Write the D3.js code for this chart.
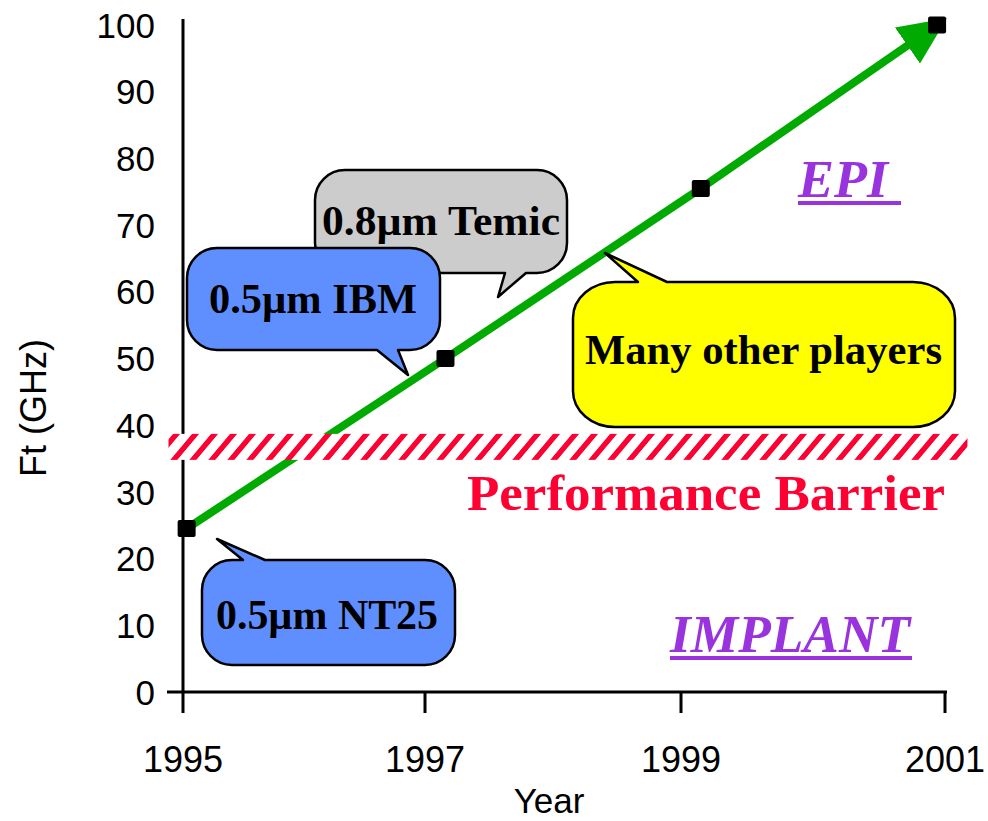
<!DOCTYPE html>
<html>
<head>
<meta charset="utf-8">
<script src="https://cdn.jsdelivr.net/npm/d3@7/dist/d3.min.js"></script>
<style>
  body { margin: 0; background: #fff; }
  svg { display: block; }
</style>
</head>
<body>
<svg id="chart" width="988" height="821"></svg>
<script>
// Ft trend of SiGe processes, 1995 - 2001

var years = [1995.03, 1997.16, 1999.15, 2000.94];
var ftGHz = [24.5, 50, 75.5, 100];
var tickYears = [1995, 1997, 1999, 2001];
var ftTicks = [0, 10, 20, 30, 40, 50, 60, 70, 80, 90, 100];
var barrierFt = [34.8, 38.7];
var barrierYears = [1994.88, 2001.17];

var callouts = [
    {text: "0.8\u00b5m Temic", fill: "#cccccc"},
    {text: "0.5\u00b5m IBM", fill: "#5f8fff"},
    {text: "Many other players", fill: "#ffff00"},
    {text: "0.5\u00b5m NT25", fill: "#5f8fff"}
];

var serif = "'Liberation Serif', 'Times New Roman', serif";
var sans = "'Liberation Sans', Arial, sans-serif";
var green = "#00aa00";
var red = "#ff0033";
var purple = "#9933dd";

var svg = d3.select('#chart');
svg.append('rect').attr('width', 988).attr('height', 821).attr('fill', '#fff');

// the original axis has uneven spacing between the year ticks
var x = d3.scaleLinear().domain(tickYears).range([183, 425, 681, 945]);
var y = d3.scaleLinear().domain([0, 100]).range([692, 25]);

var defs = svg.append('defs');
defs.append('marker')
    .attr('id', 'arrowHead')
    .attr('markerUnits', 'userSpaceOnUse')
    .attr('viewBox', '0 -23 50 46')
    .attr('markerWidth', 50)
    .attr('markerHeight', 46)
    .attr('refX', 36)
    .attr('refY', 0)
    .attr('orient', 'auto')
  .append('path')
    .attr('d', 'M0,-22 L48,0 L0,22 Z')
    .attr('fill', green);

var hatch = defs.append('pattern')
    .attr('id', 'hatch')
    .attr('patternUnits', 'userSpaceOnUse')
    .attr('width', 19)
    .attr('height', 26)
    .attr('patternTransform', 'translate(0,434) skewX(-40)');
hatch.append('rect').attr('width', 19).attr('height', 26).attr('fill', '#fff');
hatch.append('rect').attr('x', 2).attr('width', 7).attr('height', 26).attr('fill', red);

// axes
var axisGroup = svg.append('g');
axisGroup.append('line')
    .attr('x1', x(1995)).attr('x2', x(1995))
    .attr('y1', y(100) - 6).attr('y2', y(0))
    .style('stroke', 'black').style('stroke-width', 3);
axisGroup.append('line')
    .attr('x1', x(1995) - 16).attr('x2', x(2001) + 2)
    .attr('y1', y(0)).attr('y2', y(0))
    .style('stroke', 'black').style('stroke-width', 3);
axisGroup.selectAll('line.xtick')
    .data(tickYears)
    .enter()
  .append('line')
    .attr('class', 'xtick')
    .attr('x1', function (d) { return x(d); })
    .attr('x2', function (d) { return x(d); })
    .attr('y1', y(0))
    .attr('y2', y(0) + 21)
    .style('stroke', 'black').style('stroke-width', 3);
axisGroup.selectAll('text.xlabel')
    .data(tickYears)
    .enter()
  .append('text')
    .attr('class', 'xlabel')
    .attr('x', function (d) { return x(d); })
    .attr('y', 772)
    .attr('text-anchor', 'middle')
    .attr('font-family', sans)
    .attr('font-size', 36)
    .text(function (d) { return d; });
axisGroup.selectAll('text.ylabel')
    .data(ftTicks)
    .enter()
  .append('text')
    .attr('class', 'ylabel')
    .attr('x', 155)
    .attr('y', function (d) { return y(d); })
    .attr('dy', '0.36em')
    .attr('text-anchor', 'end')
    .attr('font-family', sans)
    .attr('font-size', 35)
    .text(function (d) { return d; });
svg.append('text')
    .attr('x', 549).attr('y', 813)
    .attr('text-anchor', 'middle')
    .attr('font-family', sans).attr('font-size', 35)
    .text('Year');
svg.append('text')
    .attr('transform', 'translate(46, 408) rotate(-90)')
    .attr('text-anchor', 'middle')
    .attr('font-family', sans).attr('font-size', 36)
    .text('Ft (GHz)');

// trend arrow and points
var points = years.map(function (d, i) { return [d, ftGHz[i]]; });
var lineMaker = d3.line()
    .x(function (d) { return x(d[0]); })
    .y(function (d) { return y(d[1]); });
svg.append('path')
    .datum(points)
    .attr('d', lineMaker)
    .attr('fill', 'none')
    .attr('stroke', green)
    .attr('stroke-width', 8)
    .attr('marker-end', 'url(#arrowHead)');
svg.selectAll('rect.point')
    .data(points)
    .enter()
  .append('rect')
    .attr('class', 'point')
    .attr('x', function (d) { return x(d[0]) - 9; })
    .attr('y', function (d) { return y(d[1]) - 8.5; })
    .attr('width', 18)
    .attr('height', 17)
    .attr('rx', 2)
    .attr('fill', 'black');

// performance barrier band
svg.append('rect')
    .attr('x', x(barrierYears[0]))
    .attr('y', y(barrierFt[1]))
    .attr('width', x(barrierYears[1]) - x(barrierYears[0]))
    .attr('height', y(barrierFt[0]) - y(barrierFt[1]))
    .attr('fill', 'url(#hatch)');
svg.append('text')
    .attr('x', 467).attr('y', 510)
    .attr('font-family', serif).attr('font-weight', 'bold')
    .attr('font-size', 51)
    .attr('textLength', 478)
    .attr('lengthAdjust', 'spacingAndGlyphs')
    .attr('fill', red)
    .text('Performance Barrier');

// speech bubbles
function bubblePath(b) {
    var x0 = b.x, y0 = b.y, x1 = b.x + b.w, y1 = b.y + b.h, rx = b.rx, ry = b.ry;
    var p = 'M' + (x0 + rx) + ',' + y0;
    if (b.edge === 'top') {
        p += ' L' + b.a + ',' + y0 + ' L' + b.tip[0] + ',' + b.tip[1] + ' L' + b.b + ',' + y0;
    }
    p += ' L' + (x1 - rx) + ',' + y0;
    p += ' A' + rx + ',' + ry + ' 0 0 1 ' + x1 + ',' + (y0 + ry);
    p += ' L' + x1 + ',' + (y1 - ry);
    p += ' A' + rx + ',' + ry + ' 0 0 1 ' + (x1 - rx) + ',' + y1;
    if (b.edge === 'bottom') {
        p += ' L' + b.b + ',' + y1 + ' L' + b.tip[0] + ',' + b.tip[1] + ' L' + b.a + ',' + y1;
    }
    p += ' L' + (x0 + rx) + ',' + y1;
    p += ' A' + rx + ',' + ry + ' 0 0 1 ' + x0 + ',' + (y1 - ry);
    p += ' L' + x0 + ',' + (y0 + ry);
    p += ' A' + rx + ',' + ry + ' 0 0 1 ' + (x0 + rx) + ',' + y0 + ' Z';
    return p;
}

var bubbleLayout = [
    {x: 315, y: 170, w: 252, h: 103, rx: 30, ry: 30, edge: 'bottom', a: 505, b: 526, tip: [498, 297], tx: 322, ty: 235, tw: 238},
    {x: 187, y: 248, w: 253, h: 102, rx: 30, ry: 30, edge: 'bottom', a: 377, b: 398, tip: [408, 375], tx: 209, ty: 313, tw: 208},
    {x: 573, y: 282, w: 382, h: 145, rx: 42, ry: 36, edge: 'top', a: 638, b: 667, tip: [605, 253], tx: 585, ty: 364, tw: 357},
    {x: 202, y: 560, w: 253, h: 105, rx: 30, ry: 30, edge: 'top', a: 243, b: 265, tip: [217, 539], tx: 216, ty: 629, tw: 222}
];

var bubbles = svg.selectAll('g.bubble')
    .data(callouts)
    .enter()
  .append('g')
    .attr('class', 'bubble');
bubbles.append('path')
    .attr('d', function (d, i) { return bubblePath(bubbleLayout[i]); })
    .attr('fill', function (d) { return d.fill; })
    .style('stroke', 'black')
    .style('stroke-width', 2.5)
    .style('stroke-linejoin', 'round');
bubbles.append('text')
    .attr('x', function (d, i) { return bubbleLayout[i].tx; })
    .attr('y', function (d, i) { return bubbleLayout[i].ty; })
    .attr('textLength', function (d, i) { return bubbleLayout[i].tw; })
    .attr('lengthAdjust', 'spacingAndGlyphs')
    .attr('font-family', serif).attr('font-weight', 'bold')
    .attr('font-size', 43)
    .attr('fill', 'black')
    .text(function (d) { return d.text; });

// EPI / IMPLANT region labels
var regions = [
    {text: 'EPI', x: 798, y: 197, tw: 90, ul: 103},
    {text: 'IMPLANT', x: 670, y: 652, tw: 240, ul: 242}
];
regions.forEach(function (r) {
    svg.append('text')
        .attr('x', r.x).attr('y', r.y)
        .attr('font-family', serif).attr('font-weight', 'bold')
        .attr('font-style', 'italic')
        .attr('font-size', 53)
        .attr('textLength', r.tw)
        .attr('lengthAdjust', 'spacingAndGlyphs')
        .attr('fill', purple)
        .text(r.text);
    svg.append('rect')
        .attr('x', r.x).attr('y', r.y + 4)
        .attr('width', r.ul).attr('height', 4)
        .attr('fill', purple);
});
</script>
</body>
</html>
